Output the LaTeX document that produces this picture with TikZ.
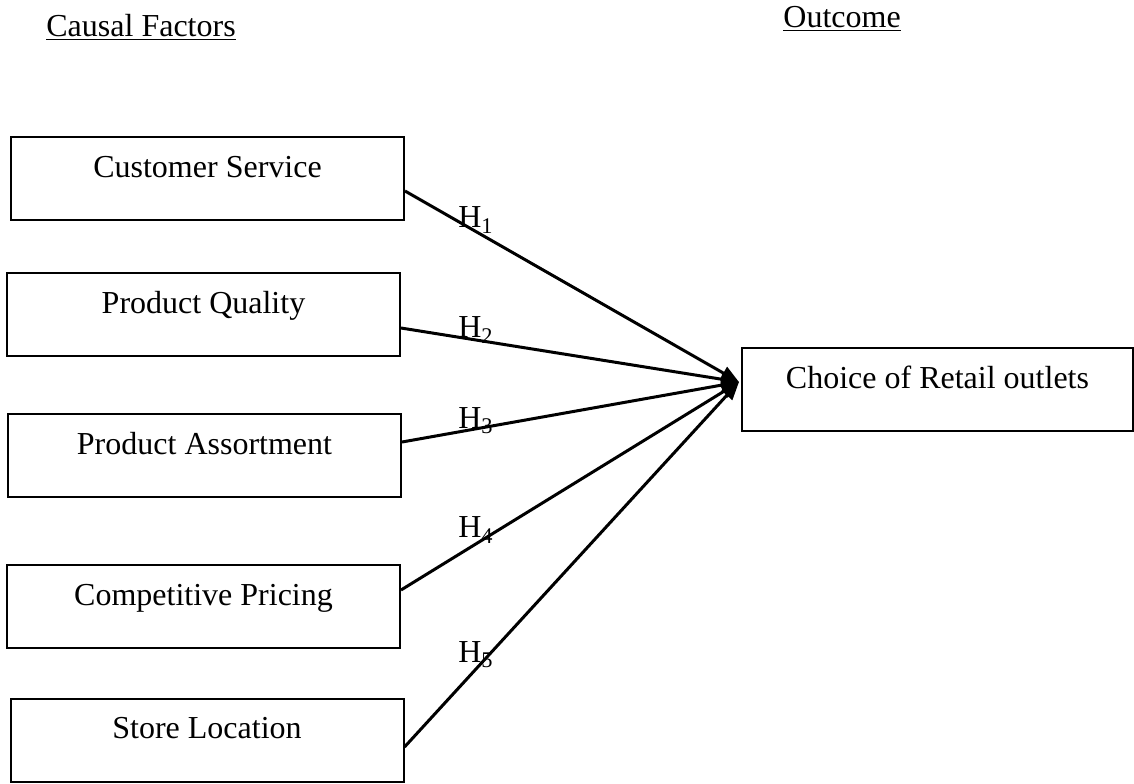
\documentclass[tikz,border=0pt]{standalone}
\usepackage{fontspec}
\setmainfont{Liberation Serif}
\usetikzlibrary{arrows.meta}
\tikzset{factor/.style={draw=black, line width=1pt, minimum width=196.5pt, inner xsep=0pt, inner ysep=0pt, text height=20pt, text depth=21.5pt, font=\fontsize{16}{19}\selectfont},
hline/.style={black, line width=1.5pt, -{Triangle[length=9pt,width=7pt]}},
hlabel/.style={font=\fontsize{16}{19}\selectfont, inner sep=0pt}}

\begin{document}
\begin{tikzpicture}[x=0.5pt,y=-0.5pt]
\useasboundingbox (0,0) rectangle (1134,783);
\node[anchor=base west, font=\fontsize{16}{19}\selectfont, inner sep=0pt] (causal) at (46,36) {\underline{Causal Factors}};
\node[anchor=base west, font=\fontsize{16}{19}\selectfont, inner sep=0pt] (outcome) at (783,27) {\underline{Outcome}};
% left column
\node[factor] (cs) at (207.5,178.5) {Customer Service};
\node[factor] (pq) at (203.5,314.5) {Product Quality};
\node[factor] (pa) at (204.5,455.5) {Product Assortment};
\node[factor] (cp) at (203.5,606.5) {Competitive Pricing};
\node[factor] (sl) at (207,740) {Store Location};
% outcome box
\node[factor, minimum width=195.5pt] (choice) at (937.5,389.5) {Choice of Retail outlets};
\coordinate (tip) at ([xshift=-1pt,yshift=3.75pt]choice.west);
\draw[hline] ([yshift=-6.25pt]cs.east) -- (tip);
\draw[hline] ([yshift=-6.75pt]pq.east) -- (tip);
\draw[hline] ([yshift=6.75pt]pa.east) -- (tip);
\draw[hline] ([yshift=8.25pt]cp.east) -- (tip);
\draw[hline] ([yshift=-3.5pt]sl.east) -- (tip);
\node[hlabel] (h1) at (476,220) {H\textsubscript{1}};
\node[hlabel] (h2) at (476,330) {H\textsubscript{2}};
\node[hlabel] (h3) at (476,421) {H\textsubscript{3}};
\node[hlabel] (h4) at (476,530) {H\textsubscript{4}};
\node[hlabel] (h5) at (476,655) {H\textsubscript{5}};
\end{tikzpicture}
\end{document}
